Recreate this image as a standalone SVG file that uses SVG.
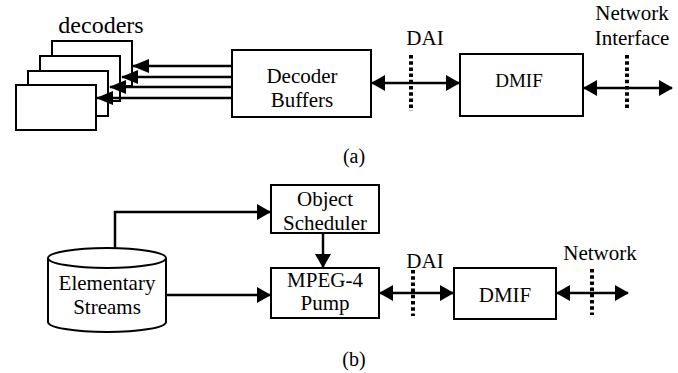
<svg xmlns="http://www.w3.org/2000/svg" width="678" height="373" viewBox="0 0 678 373">
  <style>
    .box { fill: #fff; stroke: #000; stroke-width: 2; }
    .txt { font-family: "Liberation Serif", "Times New Roman", serif; font-size: 21px; fill: #000; text-anchor: middle; }
    .line { fill: none; stroke: #000; stroke-width: 2.5; }
    .dots { fill: none; stroke: #000; stroke-width: 4; stroke-dasharray: 3.5 2.7; }
  </style>
  <defs>
    <marker id="head" markerUnits="userSpaceOnUse" markerWidth="14" markerHeight="16" refX="13" refY="8" orient="auto-start-reverse" viewBox="0 0 14 16">
      <path d="M0,0 L14,8 L0,16 Z" fill="#000"/>
    </marker>
    <marker id="headLong" markerUnits="userSpaceOnUse" markerWidth="17" markerHeight="14" refX="16" refY="7" orient="auto" viewBox="0 0 17 14">
      <path d="M0,0 L17,7 L0,14 Z" fill="#000"/>
    </marker>
  </defs>

  <rect width="678" height="373" fill="#fff"/>

  <!-- (a) decoder side -->
  <g id="decoders">
    <rect class="box" x="52" y="41" width="80" height="45"/>
    <rect class="box" x="40" y="56" width="80" height="45"/>
    <rect class="box" x="28" y="71" width="80" height="45"/>
    <rect class="box" x="16" y="85" width="80" height="45"/>
    <text class="txt" x="101" y="33" style="font-size:24px">decoders</text>
  </g>

  <g id="decoder-buffers">
    <rect class="box" x="232" y="50" width="139" height="67"/>
    <text class="txt" x="302" y="83">Decoder</text>
    <text class="txt" x="302" y="107">Buffers</text>
  </g>

  <g id="dmif-a">
    <rect class="box" x="460" y="54" width="123" height="62"/>
    <text class="txt" x="519" y="87" style="font-size:19px">DMIF</text>
  </g>

  <g id="dai-a">
    <text class="txt" x="425" y="45">DAI</text>
    <line class="dots" x1="411" y1="55" x2="411" y2="111"/>
  </g>

  <g id="network-interface">
    <text class="txt" x="632" y="20">Network</text>
    <text class="txt" x="632" y="45">Interface</text>
    <line class="dots" x1="627" y1="55" x2="627" y2="110"/>
  </g>

  <!-- (b) server side -->
  <g id="elementary-streams">
    <path class="box" d="M48,258 A59,10 0 0 1 166,258 L166,322 A59,10 0 0 1 48,322 Z"/>
    <path class="box" d="M48,258 A59,10 0 0 0 166,258" fill="none"/>
    <text class="txt" x="107" y="290">Elementary</text>
    <text class="txt" x="107" y="314">Streams</text>
  </g>

  <g id="object-scheduler">
    <rect class="box" x="271" y="185" width="108" height="48"/>
    <text class="txt" x="325" y="206">Object</text>
    <text class="txt" x="325" y="230">Scheduler</text>
  </g>

  <g id="mpeg4-pump">
    <rect class="box" x="271" y="268" width="108" height="50"/>
    <text class="txt" x="325" y="287">MPEG-4</text>
    <text class="txt" x="325" y="310">Pump</text>
  </g>

  <g id="dmif-b">
    <rect class="box" x="454" y="268" width="102" height="51"/>
    <text class="txt" x="505" y="302">DMIF</text>
  </g>

  <g id="dai-b">
    <text class="txt" x="425" y="268">DAI</text>
    <line class="dots" x1="413" y1="270" x2="413" y2="316"/>
  </g>

  <g id="network">
    <text class="txt" x="600" y="260">Network</text>
    <line class="dots" x1="592" y1="269" x2="592" y2="315"/>
  </g>

  <g id="captions">
    <text class="txt" x="354" y="163" style="font-size:20px">(a)</text>
    <text class="txt" x="354" y="366" style="font-size:20px">(b)</text>
  </g>

  <g id="connectors">
    <!-- buffers to each decoder -->
    <line class="line" x1="232" y1="66" x2="133" y2="66" marker-end="url(#headLong)"/>
    <line class="line" x1="232" y1="77" x2="122" y2="77" marker-end="url(#headLong)"/>
    <line class="line" x1="232" y1="87" x2="110" y2="87" marker-end="url(#headLong)"/>
    <line class="line" x1="232" y1="98" x2="97" y2="98" marker-end="url(#headLong)"/>
    <!-- double arrows across the interfaces -->
    <line class="line" x1="372" y1="83" x2="459" y2="83" marker-start="url(#head)" marker-end="url(#head)"/>
    <line class="line" x1="584" y1="88" x2="672" y2="88" marker-start="url(#head)" marker-end="url(#head)"/>
    <line class="line" x1="380" y1="293" x2="453" y2="293" marker-start="url(#head)" marker-end="url(#head)"/>
    <line class="line" x1="557" y1="293" x2="628" y2="293" marker-start="url(#head)" marker-end="url(#head)"/>
    <!-- streams to scheduler and pump -->
    <polyline class="line" points="115,248 115,212 270,212" marker-end="url(#head)"/>
    <line class="line" x1="166" y1="295" x2="270" y2="295" marker-end="url(#head)"/>
    <line class="line" x1="323" y1="233" x2="323" y2="267" marker-end="url(#head)"/>
  </g>
</svg>
